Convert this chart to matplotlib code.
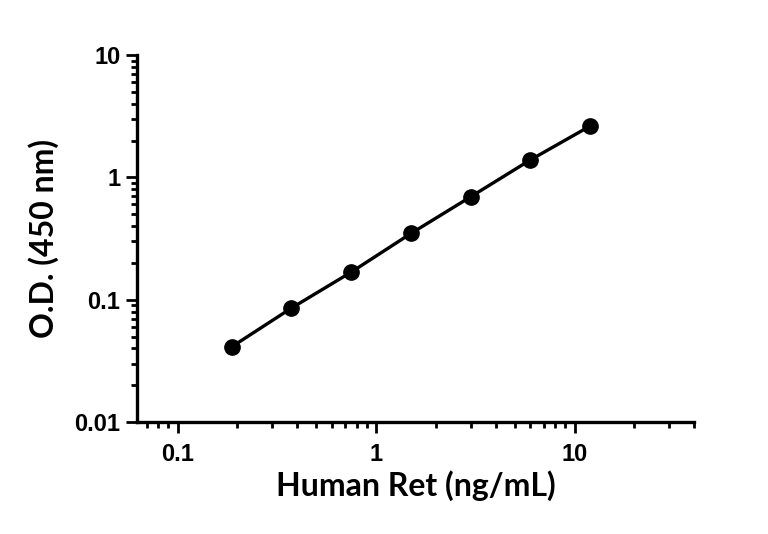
import numpy as np
import matplotlib
matplotlib.use("Agg")
import matplotlib.pyplot as plt
from matplotlib.ticker import LogLocator, FixedLocator, NullFormatter

# standard curve values
conc = [0.1875, 0.375, 0.75, 1.5, 3.0, 6.0, 12.0]
od = [0.0412, 0.0854, 0.168, 0.348, 0.694, 1.39, 2.63]

xticks = [0.1, 1, 10]
xticklabels = ["0.1", "1", "10"]
yticks = [0.01, 0.1, 1, 10]
yticklabels = ["0.01", "0.1", "1", "10"]

plt.rcParams['font.family'] = ['Liberation Sans', 'DejaVu Sans']

fig = plt.figure(figsize=(7.68, 5.34), dpi=100)
ax = fig.add_axes([0.1784, 0.2097, 0.7253, 0.6873])

ax.plot(conc, od, color="black", linewidth=2.4, marker="o",
        markersize=11, markerfacecolor="black", markeredgecolor="black")

ax.set_xscale("log")
ax.set_yscale("log")
ax.set_xlim(0.0625, 40)
ax.set_ylim(0.01, 10)

ax.xaxis.set_major_locator(FixedLocator(xticks))
ax.set_xticklabels(xticklabels)
ax.yaxis.set_major_locator(FixedLocator(yticks))
ax.set_yticklabels(yticklabels)
ax.xaxis.set_minor_locator(LogLocator(base=10, subs=np.arange(2, 10), numticks=20))
ax.yaxis.set_minor_locator(LogLocator(base=10, subs=np.arange(2, 10), numticks=20))
ax.xaxis.set_minor_formatter(NullFormatter())
ax.yaxis.set_minor_formatter(NullFormatter())

for side in ["top", "right"]:
    ax.spines[side].set_visible(False)
for side in ["left", "bottom"]:
    ax.spines[side].set_linewidth(2.4)

ax.tick_params(which="major", length=8, width=2, direction="out", labelsize=17, pad=4)
ax.tick_params(which="minor", length=4.5, width=2, direction="out")
ax.tick_params(axis="x", which="major", pad=7)
for lab in ax.get_xticklabels() + ax.get_yticklabels():
    lab.set_fontweight("bold")

ax.set_xlabel("Human Ret (ng/mL)", fontsize=23, fontweight="bold", family="Lato", labelpad=3)
ax.set_ylabel("O.D. (450 nm)", fontsize=23, fontweight="bold", family="Lato", labelpad=11)

fig.savefig("out.png", dpi=100)
